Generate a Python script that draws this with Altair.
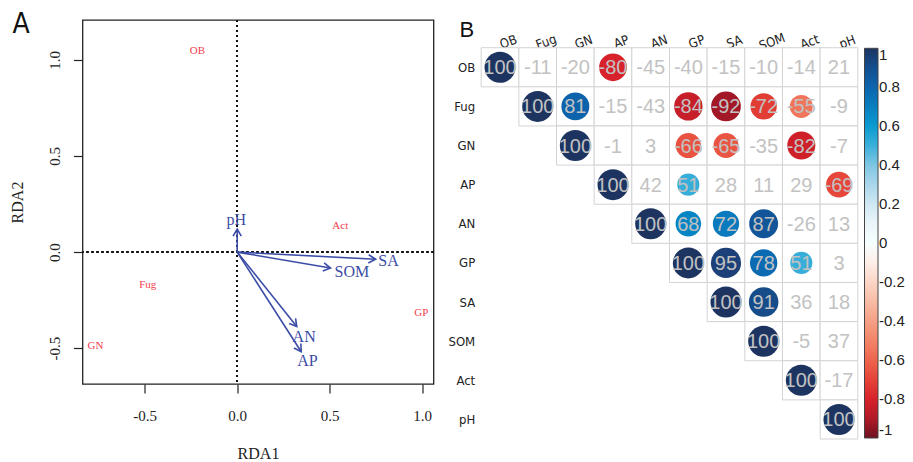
import json
import math
import altair as alt
import pandas as pd

# ---------------- Panel A: RDA biplot ----------------
env_vars = ["pH", "SA", "SOM", "AN", "AP"]
env_rda1 = [0.0, 0.748, 0.504, 0.322, 0.346]
env_rda2 = [0.12, -0.037, -0.083, -0.387, -0.518]
env_lab1 = [-0.005, 0.818, 0.62, 0.362, 0.38]
env_lab2 = [0.168, -0.045, -0.106, -0.44, -0.566]

species = ["OB", "Act", "Fug", "GP", "GN"]
sp_rda1 = [-0.215, 0.557, -0.483, 0.995, -0.766]
sp_rda2 = [1.045, 0.137, -0.17, -0.318, -0.488]

rda_ticks = [-0.5, 0.0, 0.5, 1.0]

# ---------------- Panel B: correlation matrix ----------------
corr_vars = ["OB", "Fug", "GN", "AP", "AN", "GP", "SA", "SOM", "Act", "pH"]
corr_upper = [
    [100, -11, -20, -80, -45, -40, -15, -10, -14, 21],
    [100, 81, -15, -43, -84, -92, -72, -55, -9],
    [100, -1, 3, -66, -65, -35, -82, -7],
    [100, 42, 51, 28, 11, 29, -69],
    [100, 68, 72, 87, -26, 13],
    [100, 95, 78, 51, 3],
    [100, 91, 36, 18],
    [100, -5, 37],
    [100, -17],
    [100],
]
significant = [
    [1, 0, 0, 1, 0, 0, 0, 0, 0, 0],
    [1, 1, 0, 0, 1, 1, 1, 1, 0],
    [1, 0, 0, 1, 1, 0, 1, 0],
    [1, 0, 1, 0, 0, 0, 1],
    [1, 1, 1, 1, 0, 0],
    [1, 1, 1, 1, 0],
    [1, 1, 0, 0],
    [1, 0, 0],
    [1, 0],
    [1],
]
colorbar_ticks = [-1, -0.8, -0.6, -0.4, -0.2, 0, 0.2, 0.4, 0.6, 0.8, 1]
palette_domain = [-1, -0.9, -0.8, -0.7, -0.6, -0.5, -0.4, -0.3, -0.2, -0.1, 0,
                  0.1, 0.2, 0.3, 0.4, 0.5, 0.6, 0.7, 0.8, 0.9, 1]
palette_range = ["#6e1322", "#b01a27", "#d7222b", "#e54338", "#ee654e", "#f28468",
                 "#f5a085", "#f8bca6", "#fbd5c6", "#fdeee8", "#ffffff", "#eaf5f9",
                 "#cfe8f3", "#aad7ec", "#7fc6e3", "#3bb0da", "#0a9bd0", "#0a7fc0",
                 "#0c65ae", "#134f8f", "#1d3461"]

BLUE = "#3b4ca6"
RED = "#f23c4e"
SERIF = "Liberation Serif"
SANS = "Liberation Sans"
NARROW = "Liberation Sans Narrow, DejaVu Sans Condensed, Liberation Sans, sans-serif"
NBSP = "\u00a0"

# ---- panel A geometry helpers (pixel per unit, for arrowhead angle only)
A_W, A_H = 351, 364
xdom = [-0.836, 1.061]
ydom = [-0.686, 1.207]
ppx = A_W / (xdom[1] - xdom[0])
ppy = A_H / (ydom[1] - ydom[0])

env_df = pd.DataFrame({
    "var": env_vars, "x": env_rda1, "y": env_rda2,
    "lx": env_lab1, "ly": env_lab2,
})
env_df["ang"] = [
    math.degrees(math.atan2(-y * ppy, x * ppx)) % 360 for x, y in zip(env_rda1, env_rda2)
]
sp_df = pd.DataFrame({"sp": species, "x": sp_rda1, "y": sp_rda2})

xs = alt.Scale(domain=xdom, nice=False, zero=False)
ys = alt.Scale(domain=ydom, nice=False, zero=False)
lab_expr = "(datum.value < 0 ? '-' : '') + format(abs(datum.value), '.1f')"

x_axis = alt.Axis(values=rda_ticks, labelExpr=lab_expr, tickSize=9, tickColor="#222",
                  tickWidth=1.2, domain=False, grid=False, labelFont=SERIF,
                  labelFontSize=15, labelColor="#222", labelPadding=15,
                  title="RDA1", titleFont=SERIF, titleFontSize=16, titleFontWeight="normal",
                  titleColor="#222", titleY=69, titleBaseline="middle")
y_axis = alt.Axis(values=rda_ticks, labelExpr=lab_expr, tickSize=9, tickColor="#222",
                  tickWidth=1.2, domain=False, grid=False, labelFont=SERIF,
                  labelFontSize=15, labelColor="#222", labelPadding=11, labelAngle=270,
                  labelAlign="center", labelBaseline="bottom",
                  title="RDA2", titleFont=SERIF, titleFontSize=16, titleFontWeight="normal",
                  titleColor="#222", titleAngle=270, titleX=-65, titleBaseline="middle")

base_env = alt.Chart(env_df)
ref_v = alt.Chart(env_df).mark_rule(color="#111", strokeDash=[2, 3], strokeWidth=1.5).encode(
    x=alt.X(datum=0, scale=xs, axis=x_axis))
ref_h = alt.Chart(env_df).mark_rule(color="#111", strokeDash=[2, 3], strokeWidth=1.5).encode(
    y=alt.Y(datum=0, scale=ys, axis=y_axis))
arrows = base_env.mark_rule(color=BLUE, strokeWidth=1.6).encode(
    x=alt.X("x:Q", scale=xs), y=alt.Y("y:Q", scale=ys),
    x2=alt.datum(0), y2=alt.datum(0))
heads = base_env.mark_point(shape="M-1,-0.58L0,0L-1,0.58", filled=False, color=BLUE,
                            strokeWidth=1.6, size=200, opacity=1).encode(
    x=alt.X("x:Q", scale=xs), y=alt.Y("y:Q", scale=ys),
    angle=alt.Angle("ang:Q", scale=None))
env_labels = base_env.mark_text(font=SERIF, fontSize=16, color=BLUE).encode(
    x=alt.X("lx:Q", scale=xs), y=alt.Y("ly:Q", scale=ys), text="var:N")
sp_labels = alt.Chart(sp_df).mark_text(font=SERIF, fontSize=11, color=RED).encode(
    x=alt.X("x:Q", scale=xs), y=alt.Y("y:Q", scale=ys), text="sp:N")

panel_a = alt.layer(ref_v, ref_h, arrows, heads, env_labels, sp_labels).properties(
    width=A_W, height=A_H,
    view=alt.ViewBackground(stroke="#222", strokeWidth=1.3),
    title=alt.TitleParams("A", anchor="start", frame="group", orient="top", offset=0,
                          dx=-70, dy=20, baseline="top", font=NARROW,
                          fontSize=28, fontWeight="normal", color="#111"),
)

# ---- panel B
rows = []
for i, (vals, sigs) in enumerate(zip(corr_upper, significant)):
    for k, (v, s) in enumerate(zip(vals, sigs)):
        j = i + k
        rows.append({"row": i, "col": j, "c0": j, "c1": j + 1, "r0": i, "r1": i + 1,
                     "cx": j + 0.5, "cy": i + 0.5, "r": v / 100, "absr": abs(v) / 100,
                     "label": str(v), "sig": s})
corr_df = pd.DataFrame(rows)

B_W = 376.6
B_H = 419
bxs = alt.Scale(domain=[0, 10], nice=False, zero=False)
bys = alt.Scale(domain=[-0.708, 10], nice=False, zero=False, reverse=True)
names_js = json.dumps(corr_vars)
centers = [i + 0.5 for i in range(len(corr_vars))]

top_axis = alt.Axis(orient="top", values=centers, labelExpr=f"{names_js}[floor(datum.value)]",
                    ticks=False, domain=False, grid=False, labelAngle=340, labelAlign="center",
                    labelBaseline="middle", labelPadding=6, labelOffset=8, offset=-27.7,
                    labelFont=NARROW, labelFontSize=13, labelColor="#222",
                    labelOverlap=False, labelFlush=False, title=None)
left_axis = alt.Axis(orient="left", values=centers, labelExpr=f"{names_js}[floor(datum.value)]",
                     ticks=False, domain=False, grid=False, labelPadding=6.5,
                     labelFont=NARROW, labelFontSize=13, labelColor="#222",
                     labelOverlap=False, labelFlush=False, title=None)

# colour-bar labels, visually centred with non-breaking spaces
cb_label_expr = (
    f"(datum.value == 0 || abs(datum.value) == 1 ? '{NBSP}{NBSP}' : "
    f"datum.value > 0 ? '{NBSP}' : '') + toString(datum.value)"
)

cells = alt.Chart(corr_df).mark_rect(fill="white", stroke="#d3d3d3", strokeWidth=1).encode(
    x=alt.X("c0:Q", scale=bxs, axis=top_axis), x2="c1:Q",
    y=alt.Y("r0:Q", scale=bys, axis=left_axis), y2="r1:Q")
circles = alt.Chart(corr_df).transform_filter("datum.sig == 1").mark_circle(opacity=1).encode(
    x=alt.X("cx:Q", scale=bxs, axis=top_axis), y=alt.Y("cy:Q", scale=bys, axis=left_axis),
    size=alt.Size("absr:Q", scale=alt.Scale(domain=[0, 1], range=[0, 960]), legend=None),
    color=alt.Color("r:Q", scale=alt.Scale(domain=palette_domain, range=palette_range),
                    legend=alt.Legend(orient="none", legendX=782, legendY=28.3,
                                      direction="vertical", gradientLength=389.7,
                                      gradientThickness=13.5, values=colorbar_ticks,
                                      labelExpr=cb_label_expr, title=None,
                                      labelFont=SANS, labelFontSize=15, labelColor="#222",
                                      labelOffset=1,
                                      labelBaseline="middle", labelOverlap=False,
                                      gradientStrokeColor="#444", gradientStrokeWidth=1)))
numbers = alt.Chart(corr_df).mark_text(font=SANS, fontSize=20, color="#c2c2c2", dy=1).encode(
    x=alt.X("cx:Q", scale=bxs, axis=top_axis), y=alt.Y("cy:Q", scale=bys, axis=left_axis),
    text="label:N")

panel_b = alt.layer(cells, circles, numbers).properties(
    width=B_W, height=B_H,
    view=alt.ViewBackground(stroke="transparent", strokeWidth=0),
    title=alt.TitleParams("B", anchor="start", frame="group", orient="top", offset=0,
                          dx=-21.7, dy=22, baseline="top", font=SANS,
                          fontSize=22, fontWeight="normal", color="#111"),
)

chart = alt.hconcat(panel_a, panel_b, spacing=47.7, bounds="flush").properties(
    padding={"left": 8.5, "top": 10, "right": 0, "bottom": 0}
).configure_view(strokeWidth=0).configure(background="white")

chart.save("out.html", embed_options={"renderer": "svg", "actions": False})
